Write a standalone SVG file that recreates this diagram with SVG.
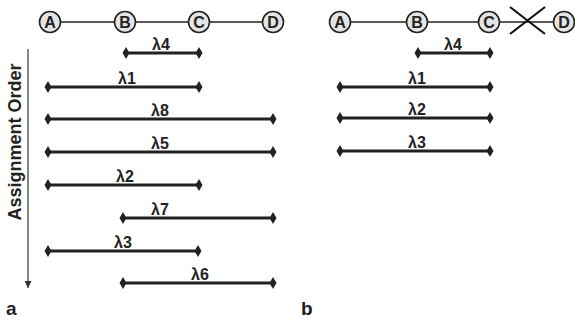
<svg xmlns="http://www.w3.org/2000/svg" width="575" height="320" viewBox="0 0 575 320">
  <defs>
    <style>
      .node circle { fill: #e4e4e4; stroke: #222; stroke-width: 1.6; }
      .node text { font-family: "Liberation Sans", Arial, sans-serif; font-weight: bold; font-size: 16px; fill: #222; text-anchor: middle; }
      .link { stroke: #222; stroke-width: 1.3; fill: none; }
      .span { stroke: #222; stroke-width: 3; fill: none; marker-start: url(#dia); marker-end: url(#dia); }
      .lbl { font-family: "Liberation Sans", Arial, sans-serif; font-weight: bold; font-size: 16px; fill: #222; text-anchor: middle; }
      .axis { stroke: #444; stroke-width: 1.3; fill: none; }
      .axislbl { font-family: "Liberation Sans", Arial, sans-serif; font-weight: bold; font-size: 18px; fill: #222; text-anchor: middle; }
      .panel { font-family: "Liberation Sans", Arial, sans-serif; font-weight: bold; font-size: 19px; fill: #222; }
      .cut { stroke: #111; stroke-width: 2.2; }
    </style>
    <marker id="dia" viewBox="-4 -6 8 12" markerWidth="8" markerHeight="12" refX="0" refY="0" markerUnits="userSpaceOnUse" orient="auto-start-reverse">
      <path d="M-3.5 0 L0 -6 L3.5 0 L0 6 Z" fill="#222"/>
    </marker>
    <marker id="arr" viewBox="0 0 10 10" refX="10" refY="5" markerWidth="7" markerHeight="7" markerUnits="userSpaceOnUse" orient="auto">
      <path d="M0 0 L10 5 L0 10 Z" fill="#333"/>
    </marker>
  </defs>

  <!-- connectors: topology links and wavelength spans -->
  <g id="connectors">
    <!-- panel a links -->
    <line class="link" x1="60" y1="22" x2="115" y2="22"/>
    <line class="link" x1="135" y1="22" x2="189" y2="22"/>
    <line class="link" x1="209" y1="22" x2="263" y2="22"/>
    <!-- panel b links -->
    <line class="link" x1="350" y1="22" x2="407" y2="22"/>
    <line class="link" x1="427" y1="22" x2="479" y2="22"/>
    <line class="link" x1="499" y1="22" x2="554" y2="22"/>

    <!-- panel a spans -->
    <line class="span" x1="126" y1="53" x2="199" y2="53"/>
    <line class="span" x1="48" y1="87" x2="199" y2="87"/>
    <line class="span" x1="48" y1="119" x2="273" y2="119"/>
    <line class="span" x1="48" y1="152" x2="273" y2="152"/>
    <line class="span" x1="48" y1="185" x2="199" y2="185"/>
    <line class="span" x1="123" y1="218" x2="273" y2="218"/>
    <line class="span" x1="48" y1="251" x2="198" y2="251"/>
    <line class="span" x1="123" y1="283" x2="273" y2="283"/>

    <!-- panel b spans -->
    <line class="span" x1="418" y1="53" x2="490" y2="53"/>
    <line class="span" x1="340" y1="87" x2="490" y2="87"/>
    <line class="span" x1="340" y1="118" x2="490" y2="118"/>
    <line class="span" x1="340" y1="151" x2="490" y2="151"/>

    <!-- failed link C-D in panel b -->
    <line class="cut" x1="510" y1="7" x2="545" y2="34"/>
    <line class="cut" x1="510" y1="34" x2="545" y2="7"/>

    <!-- assignment order axis -->
    <line class="axis" x1="28" y1="49" x2="28" y2="288" marker-end="url(#arr)"/>
  </g>

  <!-- panel a nodes -->
  <g id="a-A" class="node"><circle cx="50" cy="22" r="10.5"/><text x="50" y="28">A</text></g>
  <g id="a-B" class="node"><circle cx="125" cy="22" r="10.5"/><text x="125" y="28">B</text></g>
  <g id="a-C" class="node"><circle cx="199" cy="22" r="10.5"/><text x="199" y="28">C</text></g>
  <g id="a-D" class="node"><circle cx="273" cy="22" r="10.5"/><text x="273" y="28">D</text></g>

  <!-- panel b nodes -->
  <g id="b-A" class="node"><circle cx="340" cy="22" r="10.5"/><text x="340" y="28">A</text></g>
  <g id="b-B" class="node"><circle cx="417" cy="22" r="10.5"/><text x="417" y="28">B</text></g>
  <g id="b-C" class="node"><circle cx="489" cy="22" r="10.5"/><text x="489" y="28">C</text></g>
  <g id="b-D" class="node"><circle cx="564" cy="22" r="10.5"/><text x="564" y="28">D</text></g>

  <!-- wavelength labels -->
  <g id="labels">
    <text class="lbl" x="161" y="50">λ4</text>
    <text class="lbl" x="127" y="84">λ1</text>
    <text class="lbl" x="160" y="116">λ8</text>
    <text class="lbl" x="160" y="149">λ5</text>
    <text class="lbl" x="125" y="182">λ2</text>
    <text class="lbl" x="160" y="215">λ7</text>
    <text class="lbl" x="123" y="248">λ3</text>
    <text class="lbl" x="200" y="280">λ6</text>

    <text class="lbl" x="453" y="50">λ4</text>
    <text class="lbl" x="417" y="84">λ1</text>
    <text class="lbl" x="417" y="115">λ2</text>
    <text class="lbl" x="417" y="148">λ3</text>
  </g>

  <text class="axislbl" transform="translate(21 142) rotate(-90)">Assignment Order</text>
  <text class="panel" x="6" y="315">a</text>
  <text class="panel" x="301" y="315">b</text>
</svg>
